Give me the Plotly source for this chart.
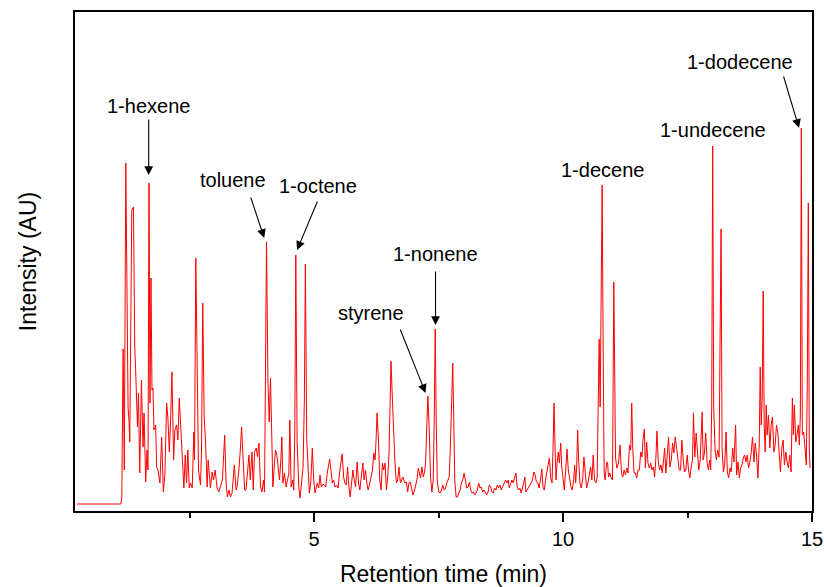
import plotly.graph_objects as go

# Retention time (min)
time_min = [
    0.24, 1.12, 1.14, 1.166, 1.19, 1.22, 1.266, 1.284, 1.30, 1.32, 1.34, 1.374, 1.386, 1.40, 1.42,
    1.454, 1.474, 1.50, 1.534, 1.566, 1.586, 1.62, 1.646, 1.666, 1.686, 1.706, 1.726, 1.746, 1.766,
    1.786, 1.82, 1.84, 1.866, 1.906, 1.94, 1.974, 2.006, 2.04, 2.066, 2.094, 2.12, 2.146, 2.18,
    2.206, 2.24, 2.266, 2.294, 2.326, 2.354, 2.386, 2.414, 2.44, 2.466, 2.494, 2.52, 2.554, 2.586,
    2.60, 2.626, 2.654, 2.68, 2.72, 2.74, 2.766, 2.794, 2.82, 2.854, 2.874, 2.90, 2.92, 2.954,
    2.98, 3.014, 3.054, 3.086, 3.134, 3.16, 3.206, 3.234, 3.26, 3.294, 3.32, 3.354, 3.40, 3.434,
    3.454, 3.486, 3.52, 3.546, 3.58, 3.606, 3.634, 3.66, 3.694, 3.72, 3.754, 3.78, 3.806, 3.84,
    3.866, 3.894, 3.926, 3.954, 3.986, 4.006, 4.026, 4.046, 4.074, 4.10, 4.126, 4.146, 4.174,
    4.20, 4.226, 4.254, 4.28, 4.306, 4.334, 4.354, 4.374, 4.406, 4.44, 4.466, 4.494, 4.514, 4.54,
    4.574, 4.594, 4.614, 4.634, 4.66, 4.694, 4.72, 4.746, 4.78, 4.806, 4.826, 4.854, 4.88, 4.906,
    4.934, 4.966, 4.994, 5.02, 5.066, 5.094, 5.12, 5.146, 5.18, 5.234, 5.266, 5.314, 5.34, 5.366,
    5.394, 5.42, 5.454, 5.486, 5.514, 5.534, 5.566, 5.594, 5.62, 5.646, 5.674, 5.70, 5.726, 5.754,
    5.78, 5.806, 5.834, 5.866, 5.894, 5.92, 5.954, 5.98, 6.006, 6.034, 6.06, 6.086, 6.12, 6.146,
    6.174, 6.20, 6.226, 6.246, 6.266, 6.294, 6.32, 6.346, 6.374, 6.40, 6.426, 6.454, 6.48, 6.506,
    6.526, 6.546, 6.574, 6.60, 6.626, 6.654, 6.68, 6.706, 6.734, 6.76, 6.786, 6.82, 6.854, 6.88,
    6.906, 6.934, 6.96, 6.986, 7.02, 7.046, 7.074, 7.094, 7.12, 7.14, 7.166, 7.194, 7.22, 7.24,
    7.26, 7.286, 7.314, 7.34, 7.366, 7.394, 7.414, 7.434, 7.454, 7.474, 7.506, 7.534, 7.56, 7.586,
    7.614, 7.64, 7.666, 7.694, 7.714, 7.734, 7.76, 7.786, 7.806, 7.826, 7.854, 7.88, 7.906, 7.934,
    7.96, 7.986, 8.014, 8.04, 8.066, 8.094, 8.12, 8.146, 8.174, 8.20, 8.226, 8.254, 8.28, 8.306,
    8.334, 8.36, 8.386, 8.414, 8.44, 8.466, 8.494, 8.52, 8.546, 8.574, 8.60, 8.626, 8.654, 8.68,
    8.706, 8.734, 8.76, 8.786, 8.814, 8.846, 8.874, 8.90, 8.92, 8.946, 8.974, 9.00, 9.026, 9.054,
    9.08, 9.106, 9.134, 9.16, 9.186, 9.214, 9.234, 9.254, 9.28, 9.306, 9.334, 9.36, 9.386, 9.414,
    9.44, 9.466, 9.494, 9.52, 9.546, 9.574, 9.60, 9.626, 9.654, 9.68, 9.706, 9.726, 9.754, 9.78,
    9.80, 9.82, 9.84, 9.86, 9.88, 9.906, 9.926, 9.954, 9.974, 10.00, 10.026, 10.054, 10.08, 10.106,
    10.134, 10.16, 10.186, 10.214, 10.234, 10.254, 10.274, 10.294, 10.314, 10.34, 10.366, 10.394,
    10.42, 10.446, 10.474, 10.50, 10.526, 10.554, 10.58, 10.606, 10.634, 10.66, 10.686, 10.706,
    10.726, 10.746, 10.766, 10.786, 10.806, 10.826, 10.846, 10.874, 10.894, 10.914, 10.94, 10.966,
    10.994, 11.006, 11.02, 11.04, 11.054, 11.08, 11.114, 11.146, 11.174, 11.20, 11.226, 11.254,
    11.28, 11.306, 11.334, 11.36, 11.38, 11.40, 11.426, 11.454, 11.48, 11.506, 11.534, 11.56,
    11.586, 11.606, 11.634, 11.654, 11.68, 11.706, 11.734, 11.76, 11.786, 11.814, 11.84, 11.866,
    11.886, 11.914, 11.94, 11.966, 11.994, 12.02, 12.04, 12.066, 12.094, 12.12, 12.146, 12.174,
    12.20, 12.226, 12.254, 12.28, 12.306, 12.334, 12.36, 12.386, 12.414, 12.44, 12.466, 12.494,
    12.52, 12.546, 12.574, 12.60, 12.62, 12.646, 12.674, 12.70, 12.726, 12.754, 12.774, 12.794,
    12.814, 12.84, 12.866, 12.894, 12.92, 12.946, 12.966, 12.986, 13.006, 13.026, 13.054, 13.08,
    13.106, 13.134, 13.154, 13.174, 13.194, 13.22, 13.246, 13.274, 13.30, 13.326, 13.354, 13.38,
    13.406, 13.434, 13.466, 13.486, 13.514, 13.54, 13.566, 13.594, 13.62, 13.646, 13.674, 13.70,
    13.726, 13.754, 13.78, 13.806, 13.834, 13.86, 13.886, 13.914, 13.94, 13.96, 13.98, 14.00,
    14.02, 14.04, 14.06, 14.08, 14.10, 14.126, 14.154, 14.18, 14.206, 14.234, 14.26, 14.286,
    14.314, 14.34, 14.366, 14.394, 14.42, 14.446, 14.474, 14.50, 14.526, 14.554, 14.58, 14.606,
    14.626, 14.646, 14.674, 14.70, 14.726, 14.746, 14.766, 14.786, 14.806, 14.834, 14.86, 14.886,
    14.906, 14.926, 14.946, 14.96,
]

# Intensity (arbitrary units)
intensity = [
    10, 10, 16, 165, 44, 351, 106, 94, 72, 174, 304, 307, 207, 167, 141,
    87, 121, 41, 134, 67, 101, 32, 64, 44, 331, 111, 236, 124, 126,
    84, 89, 47, 44, 31, 77, 22, 41, 111, 96, 62, 94, 142, 54,
    84, 89, 74, 116, 89, 54, 26, 59, 31, 64, 26, 31, 26, 82,
    54, 256, 141, 44, 29, 62, 211, 97, 74, 27, 54, 41, 26, 42,
    34, 44, 26, 22, 31, 34, 79, 31, 17, 24, 17, 21, 49, 24,
    27, 41, 64, 87, 51, 24, 24, 41, 59, 34, 62, 24, 62, 66,
    57, 71, 27, 22, 34, 22, 174, 272, 134, 92, 136, 91, 27,
    47, 64, 59, 44, 34, 54, 77, 31, 41, 27, 34, 41, 94, 27,
    34, 24, 84, 259, 74, 27, 16, 27, 47, 114, 250, 74, 41, 21,
    31, 66, 34, 21, 31, 26, 39, 27, 30, 27, 41, 55, 44, 31,
    34, 27, 29, 26, 42, 49, 60, 37, 31, 29, 47, 27, 17, 31,
    44, 34, 27, 52, 31, 24, 44, 51, 34, 44, 31, 24, 31, 37,
    44, 61, 54, 74, 101, 74, 34, 24, 51, 44, 51, 24, 37, 61,
    104, 153, 114, 77, 51, 31, 34, 47, 31, 34, 37, 31, 32, 22,
    31, 32, 24, 19, 24, 29, 36, 46, 41, 36, 47, 37, 42, 51,
    81, 118, 84, 37, 22, 34, 94, 185, 94, 34, 22, 21, 24, 29,
    24, 26, 31, 34, 37, 61, 111, 151, 94, 34, 17, 17, 21, 24,
    31, 34, 41, 31, 26, 27, 32, 24, 21, 22, 19, 21, 24, 31,
    26, 27, 22, 24, 21, 19, 22, 29, 27, 22, 21, 26, 24, 29,
    26, 29, 24, 27, 31, 34, 31, 34, 26, 31, 34, 31, 37, 41,
    27, 24, 26, 21, 26, 31, 37, 22, 24, 27, 29, 31, 34, 42,
    39, 32, 31, 26, 34, 45, 26, 24, 36, 44, 49, 56, 36, 31,
    67, 111, 67, 34, 51, 62, 51, 71, 47, 34, 24, 44, 65, 44,
    32, 27, 24, 34, 49, 31, 47, 84, 54, 31, 26, 34,
    57, 37, 26, 31, 41, 47, 34, 59, 34, 31, 37, 101,
    175, 107, 234, 329, 167, 41, 34, 51, 52, 37, 41, 36,
    34, 101, 232, 134, 57, 46, 51, 69, 41, 37, 44, 39,
    46, 41, 69, 64, 111, 67, 41, 41, 36, 44, 44, 62,
    57, 74, 85, 46, 72, 51, 46, 51, 44, 47, 37, 57,
    83, 52, 44, 49, 41, 54, 66, 41, 61, 77, 47, 54,
    71, 61, 77, 64, 57, 44, 44, 74, 54, 42, 44, 59,
    44, 36, 47, 54, 101, 57, 81, 64, 44, 54, 74, 102,
    54, 61, 81, 51, 44, 54, 44, 107, 368, 107, 64, 54,
    64, 57, 174, 285, 66, 42, 49, 82, 42, 36, 46, 42,
    66, 52, 89, 39, 52, 36, 46, 49, 56, 59, 52, 59,
    46, 52, 62, 77, 52, 71, 59, 36, 69, 147, 89, 116,
    223, 89, 62, 109, 79, 99, 66, 89, 97, 62, 69, 89,
    81, 56, 42, 66, 74, 49, 62, 52, 46, 59, 42, 116,
    79, 109, 72, 79, 89, 69, 99, 386, 79, 82, 62, 49,
    134, 311, 66, 46,
]

# Compound labels: text position, arrow head, arrow tail (None = no arrow)
label_text = ["1-hexene", "toluene", "1-octene", "styrene", "1-nonene", "1-decene", "1-undecene", "1-dodecene"]
label_x = [1.68, 3.38, 5.08, 6.14, 7.44, 10.80, 13.02, 13.56]
label_y = [408, 334, 328, 201, 260, 344, 384, 452]
arrow_head_x = [1.68, 4.00, 4.66, 7.24, 7.44, None, None, 14.74]
arrow_head_y = [339, 276, 264, 121, 189, None, None, 386]
arrow_tail_x = [1.68, 3.72, 5.08, 6.72, 7.44, None, None, 14.42]
arrow_tail_y = [396, 318, 314, 186, 244, None, None, 439]

x_tickvals = [5, 10, 15]
x_ticktext = ["5", "10", "15"]

FONT = "Liberation Sans, Arial, sans-serif"

fig = go.Figure()
fig.add_trace(go.Scatter(
    x=time_min, y=intensity, mode="lines",
    line=dict(color="#ff0000", width=1),
    showlegend=False, hoverinfo="skip",
))

annotations = []
for txt, lx, ly in zip(label_text, label_x, label_y):
    annotations.append(dict(
        x=lx, y=ly, xref="x", yref="y", text=txt, showarrow=False,
        font=dict(family=FONT, size=20, color="black"),
        xanchor="center", yanchor="middle",
    ))
for hx, hy, tx, ty in zip(arrow_head_x, arrow_head_y, arrow_tail_x, arrow_tail_y):
    if hx is None:
        continue
    annotations.append(dict(
        x=hx, y=hy, xref="x", yref="y", ax=tx, ay=ty, axref="x", ayref="y",
        text="", showarrow=True, arrowhead=2, arrowsize=1.6, arrowwidth=1.1,
        arrowcolor="black",
    ))

fig.update_layout(
    width=824, height=587,
    margin=dict(l=75, r=12, t=12, b=76, autoexpand=False),
    plot_bgcolor="white", paper_bgcolor="white",
    font=dict(family=FONT, size=20, color="black"),
    annotations=annotations,
    hovermode=False,
    xaxis=dict(
        range=[0.2, 15.0], showgrid=False, zeroline=False, automargin=False,
        showline=True, linecolor="black", linewidth=1.5, mirror=True,
        ticks="outside", ticklen=9, tickwidth=1.5, tickcolor="black",
        tickvals=x_tickvals, ticktext=x_ticktext,
        tickfont=dict(family=FONT, size=20, color="black"),
        minor=dict(tickvals=[2.5, 7.5, 12.5], ticks="outside", ticklen=5, tickwidth=1.5, tickcolor="black"),
        title=dict(text="Retention time (min)", font=dict(family=FONT, size=23, color="black"), standoff=17),
    ),
    yaxis=dict(
        range=[3, 502], showgrid=False, zeroline=False, automargin=False,
        showline=True, linecolor="black", linewidth=1.5, mirror=True,
        showticklabels=False, ticks="",
        title=dict(text="Intensity (AU)", font=dict(family=FONT, size=23, color="black"), standoff=30),
    ),
)

# remove the default page margin so the 824x587 figure fills the window exactly
fig.write_html(
    "out.html",
    config={"displayModeBar": False},
    post_script="document.body.style.margin='0px';document.body.style.overflow='hidden';",
)
